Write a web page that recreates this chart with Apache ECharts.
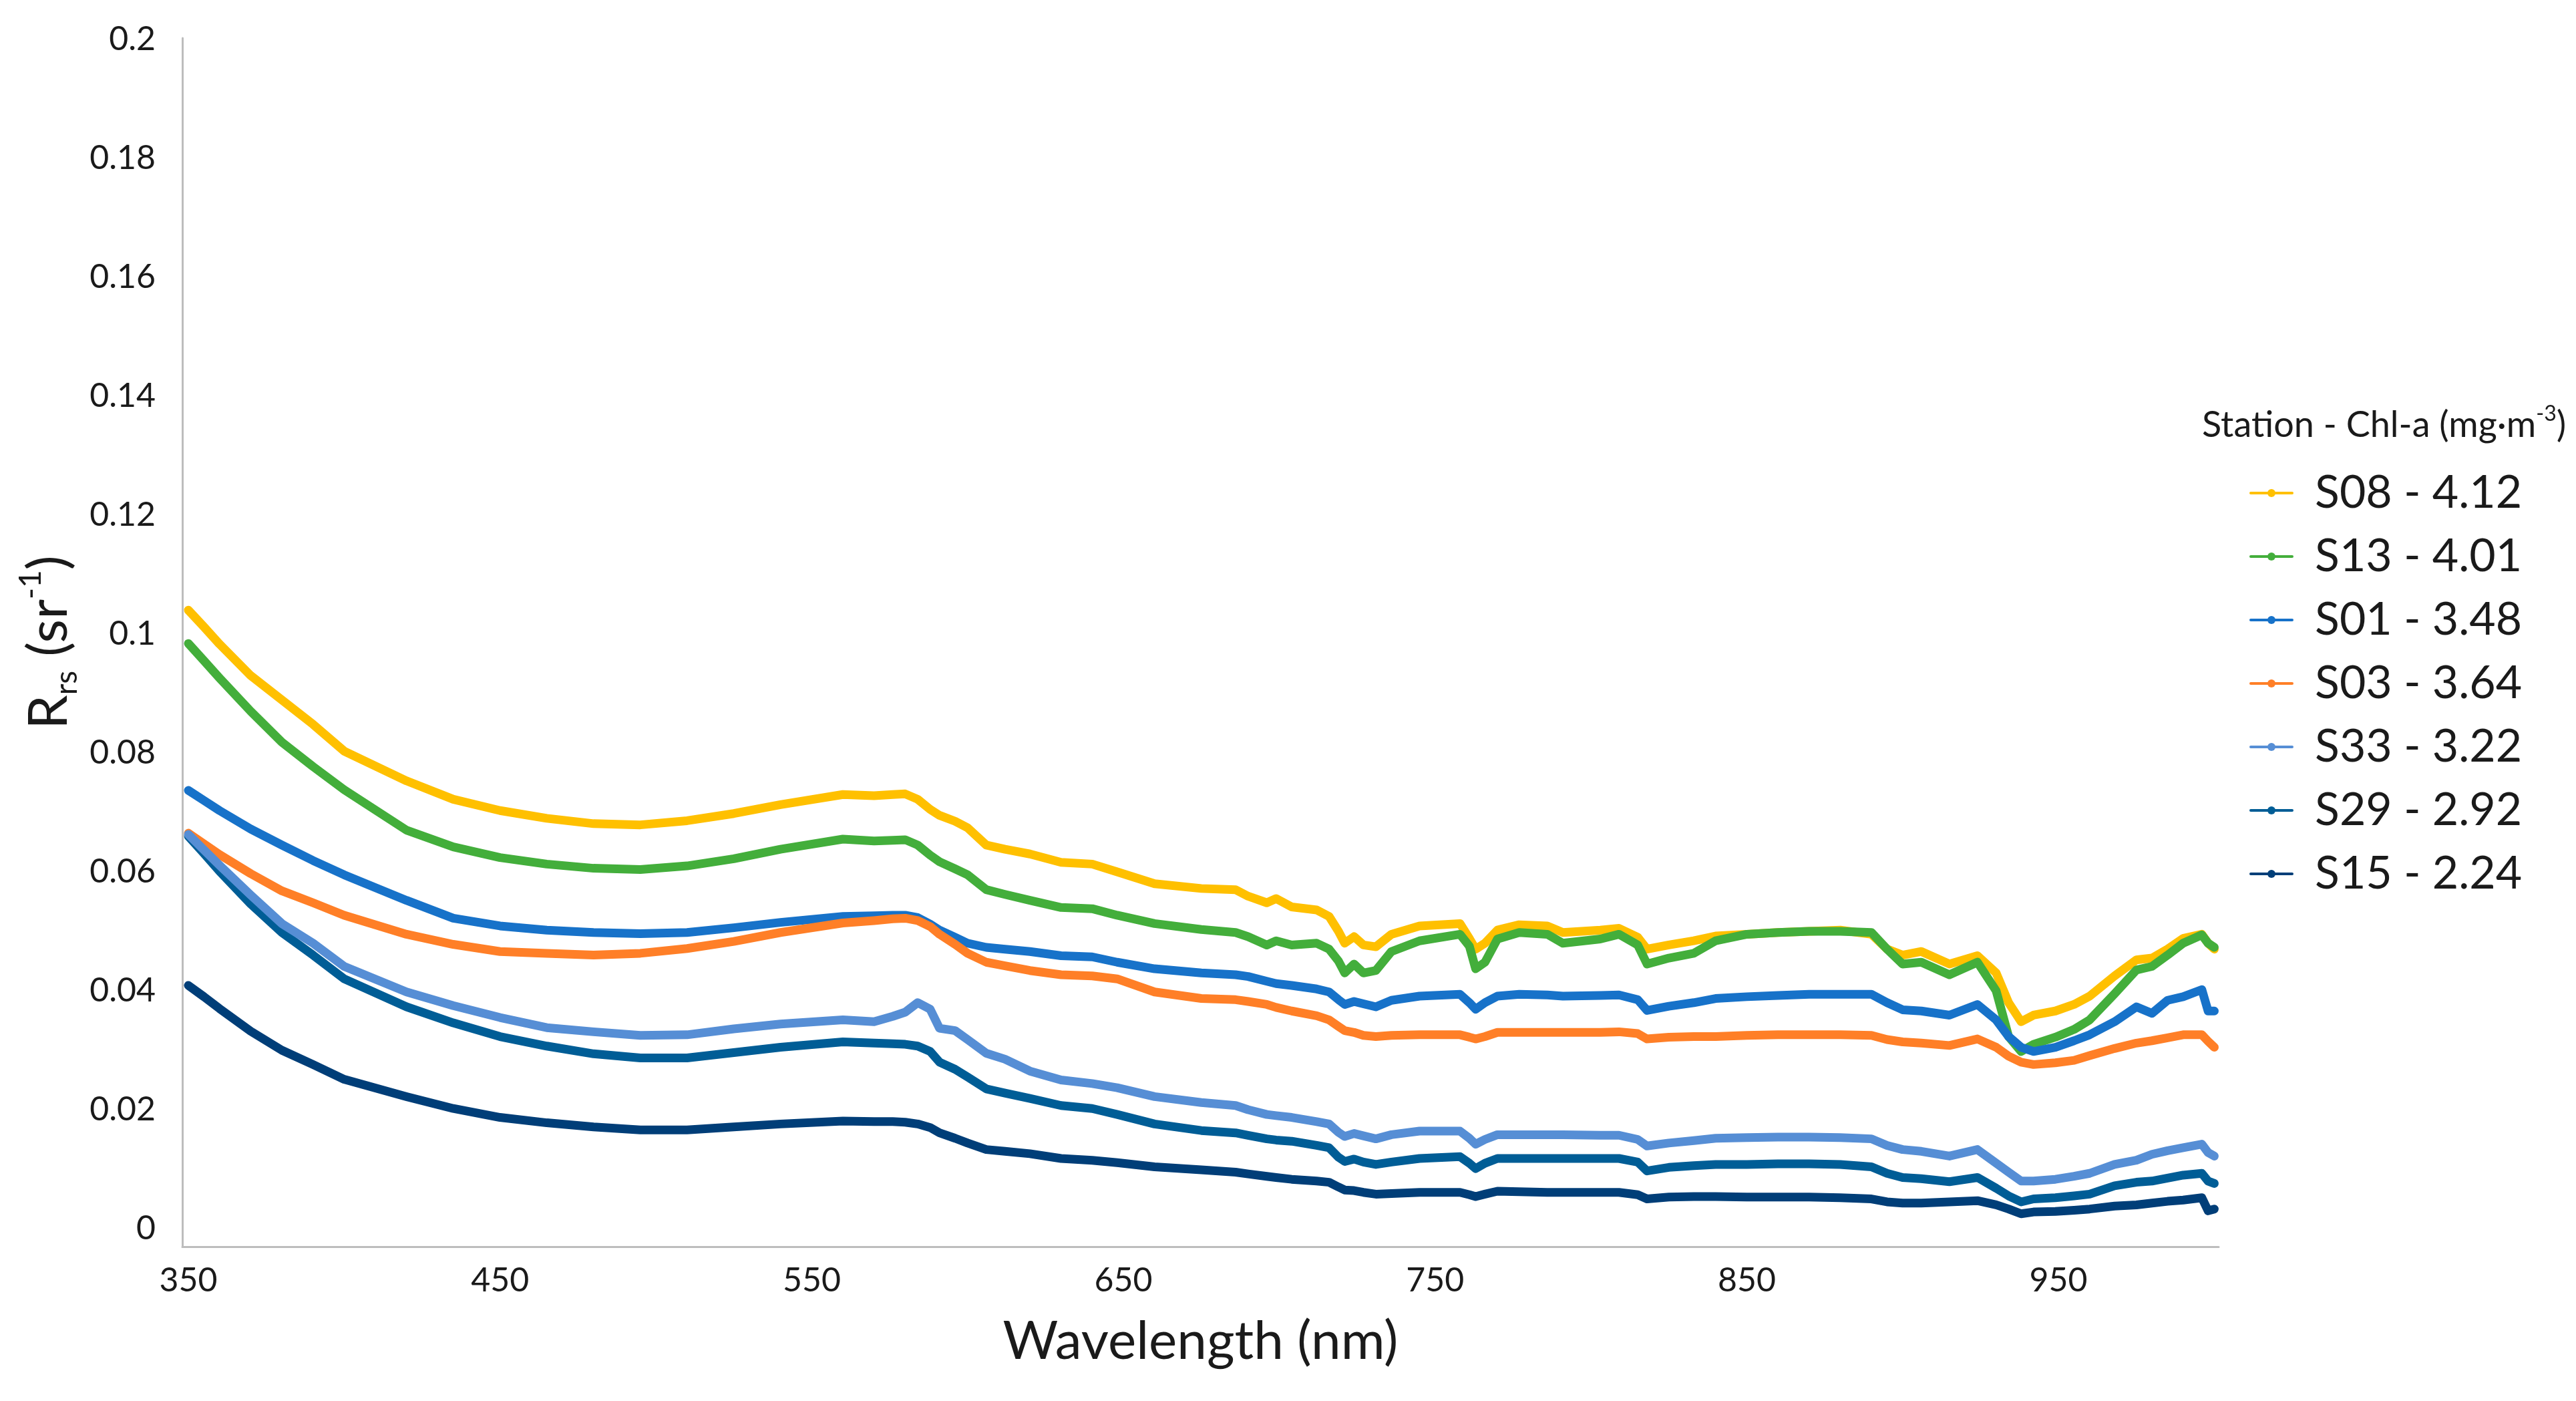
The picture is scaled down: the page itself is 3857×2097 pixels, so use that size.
<!DOCTYPE html>
<html>
<head>
<meta charset="utf-8">
<script src="https://cdn.jsdelivr.net/npm/echarts@6/dist/echarts.min.js"></script>
<style>html,body{margin:0;padding:0;background:#fff;}#c{width:3857px;height:2097px;}</style>
</head>
<body>
<div id="c"></div>
<script>
const wavelength = [350,355,360,370,380,390,400,420,435,450,465,480,495,510,525,540,560,570,576,580,584,588,591,596,600,606,612,620,630,640,648,660,675,686,690,696,699,704,712,716,719,721,724,727,731,736,745,758,761,763,766,770,777,786,791,803,809,815,818,825,833,840,850,860,870,880,890,895,900,906,915,924,930,934,938,942,949,955,960,968,975,980,985,990,996,998,1000];

const S08 = [.104,.1012,.0983,.0930,.0889,.0848,.0803,.0753,.0722,.0703,
.0690,.0681,.0679,.0686,.0698,.0713,.0730,.0728,.0730,.0731,
.0722,.0705,.0695,.0685,.0674,.0645,.0638,.0630,.0616,.0613,
.0600,.0580,.0572,.0570,.0559,.0548,.0555,.0541,.0536,.0525,
.0500,.0480,.0491,.0477,.0474,.0495,.0509,.0513,.0488,.0470,
.0480,.0502,.0511,.0509,.0498,.0502,.0505,.0490,.0470,.0477,
.0484,.0492,.0495,.0498,.0500,.0502,.0495,.0470,.0460,.0466,
.0445,.0459,.0430,.0380,.0348,.0359,.0366,.0377,.0391,.0425,
.0452,.0455,.0470,.0488,.0495,.0480,.0470];

const S13 = [.0984,.0955,.0926,.0870,.0818,.0777,.0738,.0670,.0642,.0624,
.0613,.0606,.0604,.0610,.0622,.0638,.0655,.0652,.0653,.0654,
.0645,.0628,.0617,.0605,.0595,.0570,.0562,.0552,.0540,.0538,
.0527,.0513,.0503,.0498,.0491,.0477,.0484,.0477,.0480,.0470,
.0450,.0430,.0445,.0430,.0434,.0466,.0484,.0495,.0475,.0437,
.0448,.0487,.0498,.0495,.0480,.0487,.0495,.0477,.0445,.0455,
.0463,.0484,.0495,.0498,.0500,.0500,.0498,.0470,.0445,.0448,
.0427,.0448,.0400,.0323,.0298,.0310,.0322,.0335,.0351,.0395,
.0435,.0441,.0460,.0480,.0494,.0480,.0473];

const S01 = [.0737,.0720,.0703,.0672,.0645,.0619,.0595,.0552,.0522,.0509,
.0502,.0498,.0496,.0498,.0506,.0515,.0525,.0526,.0527,.0527,
.0523,.0512,.0502,.0490,.0480,.0473,.0470,.0466,.0459,.0457,
.0448,.0437,.0430,.0427,.0424,.0416,.0412,.0409,.0403,.0398,
.0385,.0377,.0382,.0378,.0373,.0384,.0391,.0394,.0380,.0369,
.0380,.0391,.0394,.0393,.0391,.0392,.0393,.0385,.0367,.0374,
.0380,.0387,.0390,.0392,.0394,.0394,.0394,.0380,.0368,.0366,
.0359,.0377,.0351,.0323,.0305,.0298,.0305,.0316,.0326,.0348,
.0373,.0362,.0384,.0390,.0402,.0366,.0366];

const S03 = [.0665,.0647,.0629,.0597,.0568,.0548,.0527,.0495,.0478,.0466,
.0463,.0460,.0463,.0471,.0483,.0498,.0514,.0518,.0521,.0522,
.0518,.0508,.0495,.0478,.0463,.0448,.0442,.0434,.0427,.0425,
.0420,.0398,.0387,.0385,.0382,.0377,.0372,.0366,.0358,.0351,
.0340,.0333,.0330,.0325,.0323,.0325,.0326,.0326,.0322,.0319,
.0323,.0330,.0330,.0330,.0330,.0330,.0331,.0328,.0319,.0322,
.0323,.0323,.0325,.0326,.0326,.0326,.0325,.0318,.0314,.0312,
.0308,.0319,.0305,.0290,.0280,.0276,.0279,.0283,.0291,.0303,
.0312,.0316,.0321,.0326,.0326,.0315,.0305];

const S33 = [.0663,.0637,.0611,.0561,.0513,.0480,.0441,.0398,.0375,.0355,
.0338,.0331,.0325,.0326,.0336,.0344,.0351,.0348,.0357,.0364,
.0380,.0369,.0337,.0333,.0318,.0295,.0285,.0265,.0250,.0244,
.0237,.0222,.0212,.0207,.0200,.0192,.0190,.0187,.0180,.0176,
.0162,.0155,.0160,.0156,.0151,.0158,.0164,.0164,.0152,.0142,
.0150,.0158,.0158,.0158,.0158,.0157,.0157,.0150,.0139,.0144,
.0148,.0152,.0153,.0154,.0154,.0153,.0151,.0140,.0133,.0130,
.0122,.0133,.0110,.0095,.0080,.0080,.0083,.0088,.0093,.0108,
.0115,.0125,.0131,.0136,.0142,.0128,.0122];

const S29 = [.0660,.0631,.0601,.0546,.0498,.0460,.0420,.0373,.0346,.0323,
.0307,.0294,.0287,.0287,.0296,.0305,.0314,.0312,.0311,.0310,
.0307,.0298,.0280,.0268,.0255,.0235,.0228,.0219,.0207,.0202,
.0192,.0176,.0165,.0161,.0157,.0151,.0149,.0147,.0140,.0136,
.0120,.0113,.0117,.0112,.0108,.0112,.0118,.0121,.0110,.0101,
.0110,.0118,.0118,.0118,.0118,.0118,.0118,.0112,.0097,.0103,
.0106,.0108,.0108,.0109,.0109,.0108,.0104,.0093,.0086,.0084,
.0079,.0086,.0068,.0055,.0045,.0050,.0052,.0055,.0058,.0072,
.0078,.0080,.0085,.0090,.0093,.0080,.0076];

const S15 = [.0409,.0390,.0370,.0332,.0300,.0276,.0251,.0222,.0202,.0187,
.0178,.0171,.0166,.0166,.0171,.0176,.0181,.0180,.0180,.0179,
.0176,.0170,.0161,.0152,.0144,.0133,.0130,.0126,.0118,.0115,
.0111,.0104,.0099,.0095,.0092,.0088,.0086,.0083,.0080,.0078,
.0070,.0065,.0064,.0061,.0058,.0059,.0061,.0061,.0057,.0054,
.0058,.0063,.0062,.0061,.0061,.0061,.0061,.0057,.0050,.0053,
.0054,.0054,.0053,.0053,.0053,.0052,.0050,.0045,.0043,.0043,
.0045,.0047,.0040,.0033,.0025,.0028,.0029,.0031,.0033,.0038,
.0040,.0043,.0046,.0048,.0052,.0030,.0033];

const legendNames = ['S08 - 4.12','S13 - 4.01','S01 - 3.48','S03 - 3.64','S33 - 3.22','S29 - 2.92','S15 - 2.24'];
const xTickLabels = [350,450,550,650,750,850,950];
const yTickLabels = [0,0.02,0.04,0.06,0.08,0.1,0.12,0.14,0.16,0.18,0.2];

const colors = {
  'S08 - 4.12':'#FFC000','S13 - 4.01':'#43AE3B','S01 - 3.48':'#1772C9','S03 - 3.64':'#FF7F27',
  'S33 - 3.22':'#568ED5','S29 - 2.92':'#005D96','S15 - 2.24':'#003E78'
};
const seriesValues = {
  'S08 - 4.12':S08,'S13 - 4.01':S13,'S01 - 3.48':S01,'S03 - 3.64':S03,
  'S33 - 3.22':S33,'S29 - 2.92':S29,'S15 - 2.24':S15
};
// drawing order (later on top)
const drawOrder = ['S08 - 4.12','S13 - 4.01','S01 - 3.48','S03 - 3.64','S29 - 2.92','S33 - 3.22','S15 - 2.24'];

const FONT = 'Lato, "Open Sans", sans-serif';

const series = drawOrder.map(name => ({
  name: name,
  type: 'line',
  data: wavelength.map((w,i) => [w, seriesValues[name][i]]),
  symbol: 'circle',
  showSymbol: false,
  color: colors[name],
  lineStyle: {width: 13, color: colors[name], cap: 'round', join: 'round'},
  itemStyle: {color: colors[name]},
  emphasis: {disabled: true},
  silent: true
}));

const chart = echarts.init(document.getElementById('c'), null, {renderer: 'canvas'});
chart.setOption({
  animation: false,
  backgroundColor: '#ffffff',
  title: {
    left: 3297, top: 604, padding: 0,
    text: '{a|Station - Chl-a (mg·m}{s|-3}{a|)}',
    textStyle: {
      fontWeight: 'normal',
      rich: {
        a: {fontFamily: FONT, fontSize: 54, fontWeight: 'normal', color: '#1a1a1a', lineHeight: 60, verticalAlign: 'bottom'},
        s: {fontFamily: FONT, fontSize: 32, fontWeight: 'normal', color: '#1a1a1a', lineHeight: 60, verticalAlign: 'top'}
      }
    }
  },
  legend: {
    data: legendNames,
    orient: 'vertical',
    left: 3363, top: 699,
    itemWidth: 62, itemHeight: 15, itemGap: 27,
    lineStyle: {width: 4},
    textStyle: {fontFamily: FONT, fontSize: 68, color: '#1a1a1a', lineHeight: 68, padding: [0,0,0,29]},
    selectedMode: false
  },
  grid: {left: 273, right: 535, top: 57, bottom: 231, containLabel: false},
  xAxis: {
    type: 'value',
    min: 348.07, max: 1001.4,
    name: 'Wavelength (nm)',
    nameLocation: 'middle',
    nameGap: 102,
    nameTextStyle: {fontFamily: FONT, fontSize: 80, color: '#1a1a1a'},
    axisLine: {show: true, onZero: false, lineStyle: {color: '#BDBDBD', width: 3}},
    axisTick: {show: false},
    splitLine: {show: false},
    axisLabel: {customValues: xTickLabels, fontFamily: FONT, fontSize: 50, color: '#1a1a1a', margin: 26}
  },
  yAxis: {
    type: 'value',
    min: -0.00303, max: 0.2002,
    name: '{R|R}{sub|rs}{t| (sr}{sup|-1}{t|)}',
    nameLocation: 'middle',
    nameRotate: 90,
    nameGap: 142,
    nameTextStyle: {
      rich: {
        R: {fontFamily: FONT, fontSize: 82, color: '#1a1a1a', lineHeight: 100, verticalAlign: 'middle'},
        t: {fontFamily: FONT, fontSize: 82, color: '#1a1a1a', lineHeight: 100, verticalAlign: 'middle'},
        sub: {fontFamily: FONT, fontSize: 46, color: '#1a1a1a', lineHeight: 46, verticalAlign: 'bottom'},
        sup: {fontFamily: FONT, fontSize: 46, color: '#1a1a1a', lineHeight: 46, verticalAlign: 'top'}
      }
    },
    axisLine: {show: true, onZero: false, lineStyle: {color: '#BDBDBD', width: 3}},
    axisTick: {show: false},
    splitLine: {show: false},
    axisLabel: {customValues: yTickLabels, fontFamily: FONT, fontSize: 50, color: '#1a1a1a', margin: 40}
  },
  series: series
});
</script>
</body>
</html>
